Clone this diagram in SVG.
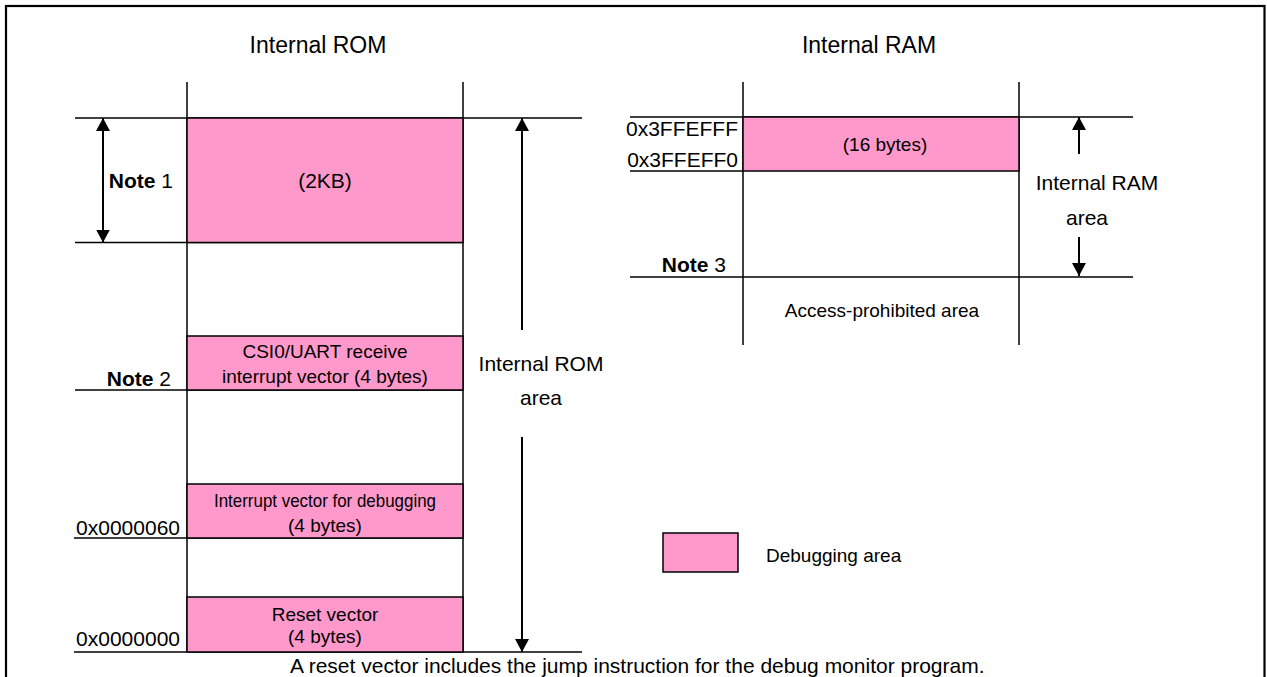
<svg xmlns="http://www.w3.org/2000/svg" width="1267" height="677" viewBox="0 0 1267 677">
<defs>
<marker id="ah" viewBox="0 0 13 14" refX="13" refY="7" markerWidth="13" markerHeight="14" markerUnits="userSpaceOnUse" orient="auto-start-reverse">
<path d="M0,0 L13,7 L0,14 z" fill="#000"/>
</marker>
<style>
.t{font-family:"Liberation Sans",Arial,sans-serif;font-size:21px;fill:#000}
.s{font-size:19px}
.h{font-size:23px}
.c{text-anchor:middle}
.r{text-anchor:end}
.b{font-weight:bold}
.ln{stroke:#000;stroke-width:1.5;fill:none}
.pk{fill:#FF99CC;stroke:#000;stroke-width:1.5}
.ar{stroke:#000;stroke-width:2;fill:none}
</style>
</defs>
<rect x="0" y="0" width="1267" height="677" fill="#fff"/>
<rect x="6" y="6" width="1258.5" height="700" fill="none" stroke="#000" stroke-width="2.2"/>

<g id="titles">
<text class="t h c" x="318" y="53">Internal ROM</text>
<text class="t h c" x="869" y="53">Internal RAM</text>
</g>

<g id="rom-column">
<line class="ln" x1="187" y1="82" x2="187" y2="652"/>
<line class="ln" x1="463" y1="82" x2="463" y2="652"/>
<line class="ln" x1="75" y1="118" x2="582" y2="118"/>
<line class="ln" x1="75" y1="242.5" x2="463" y2="242.5"/>
<line class="ln" x1="75" y1="390" x2="463" y2="390"/>
<line class="ln" x1="74" y1="538" x2="463" y2="538"/>
<line class="ln" x1="74" y1="652" x2="582" y2="652"/>
</g>

<g id="rom-debug-2kb">
<rect class="pk" x="187" y="118" width="276" height="124.5"/>
<text class="t c" x="325" y="188">(2KB)</text>
</g>
<g id="rom-csi0">
<rect class="pk" x="187" y="336" width="276" height="54"/>
<text class="t c s" x="325" y="358">CSI0/UART receive</text>
<text class="t c s" x="325" y="383">interrupt vector (4 bytes)</text>
</g>
<g id="rom-dbg-vector">
<rect class="pk" x="187" y="484" width="276" height="54"/>
<text class="t c s" x="325" y="507" textLength="222" lengthAdjust="spacingAndGlyphs">Interrupt vector for debugging</text>
<text class="t c s" x="325" y="532">(4 bytes)</text>
</g>
<g id="rom-reset">
<rect class="pk" x="187" y="597" width="276" height="55"/>
<text class="t c s" x="325" y="621">Reset vector</text>
<text class="t c s" x="325" y="643">(4 bytes)</text>
</g>

<g id="rom-labels">
<text class="t r" x="173" y="188"><tspan class="b">Note</tspan> 1</text>
<text class="t r" x="171" y="386"><tspan class="b">Note</tspan> 2</text>
<text class="t r" x="180" y="535">0x0000060</text>
<text class="t r" x="180" y="646">0x0000000</text>
<text class="t c" x="541" y="371">Internal ROM</text>
<text class="t c" x="541" y="405">area</text>
</g>

<g id="ram-column">
<line class="ln" x1="743" y1="82" x2="743" y2="345"/>
<line class="ln" x1="1019" y1="82" x2="1019" y2="345"/>
<line class="ln" x1="630" y1="117" x2="1133" y2="117"/>
<line class="ln" x1="630" y1="171" x2="743" y2="171"/>
<line class="ln" x1="630" y1="277" x2="1133" y2="277"/>
</g>
<g id="ram-debug-16">
<rect class="pk" x="743" y="117" width="276" height="54"/>
<text class="t c s" x="885" y="151">(16 bytes)</text>
</g>
<g id="ram-labels">
<text class="t r" x="738" y="136">0x3FFEFFF</text>
<text class="t r" x="738" y="167">0x3FFEFF0</text>
<text class="t r" x="726" y="272"><tspan class="b">Note</tspan> 3</text>
<text class="t c s" x="882" y="317">Access-prohibited area</text>
<text class="t c" x="1097" y="190">Internal RAM</text>
<text class="t c" x="1087" y="225">area</text>
</g>

<g id="legend">
<rect class="pk" x="663" y="533" width="75" height="39"/>
<text class="t s" x="766" y="562">Debugging area</text>
</g>

<g id="connectors">
<line class="ar" x1="103" y1="118" x2="103" y2="242.5" marker-start="url(#ah)" marker-end="url(#ah)"/>
<line class="ar" x1="522" y1="330" x2="522" y2="118" marker-end="url(#ah)"/>
<line class="ar" x1="522" y1="437" x2="522" y2="652" marker-end="url(#ah)"/>
<line class="ar" x1="1079" y1="154" x2="1079" y2="117" marker-end="url(#ah)"/>
<line class="ar" x1="1079" y1="237" x2="1079" y2="276" marker-end="url(#ah)"/>
</g>

<g id="caption">
<text class="t" x="290" y="673" font-size="18.5">A reset vector includes the jump instruction for the debug monitor program.</text>
</g>
</svg>
